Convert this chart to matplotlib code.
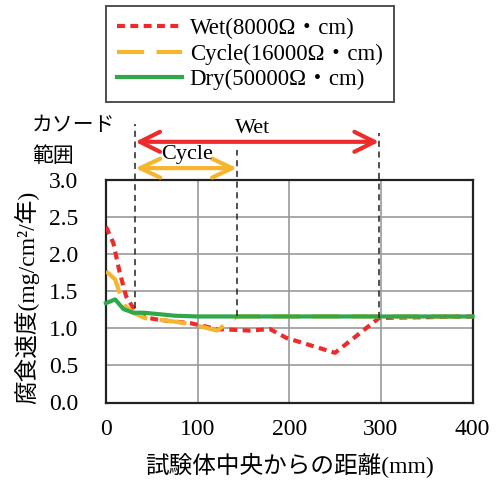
import matplotlib
matplotlib.use("Agg")
import matplotlib.pyplot as plt
from matplotlib.ticker import FormatStrFormatter
import numpy as np

plt.rcParams['font.family'] = ['Liberation Serif', 'Noto Sans CJK JP', 'DejaVu Sans']

# data (distance in mm, corrosion rate in mg/cm2/year)
wet_x = [0, 8, 15, 22, 31, 46, 60, 92, 121, 157, 179, 197, 250, 298, 400]
wet_y = [2.37, 2.15, 1.75, 1.43, 1.25, 1.14, 1.11, 1.07, 0.99, 0.97, 0.99, 0.87, 0.67, 1.14, 1.16]
cycle_x = [0, 10, 19, 30, 42, 75, 92, 121, 143, 400]
cycle_y = [1.77, 1.66, 1.32, 1.21, 1.14, 1.09, 1.06, 0.97, 1.16, 1.16]
dry_x = [0, 10, 19, 30, 42, 75, 100, 400]
dry_y = [1.34, 1.39, 1.26, 1.21, 1.21, 1.17, 1.16, 1.16]

labels = ['Wet(8000Ω・cm)', 'Cycle(16000Ω・cm)', 'Dry(50000Ω・cm)']

# cathode range boundaries (mm)
cathode_start = 32
cycle_end = 143
wet_end = 298

red = '#ee2b2b'
yellow = '#f5b52e'
green = '#2ea84b'

fig = plt.figure(figsize=(4.96, 4.8), dpi=100)
ax = fig.add_axes([106/496, 1-402.5/480, 366.5/496, 222.5/480])

ax.set_xlim(0, 400)
ax.set_ylim(0, 3.0)
ax.set_xticks(np.arange(0, 401, 100))
ax.set_yticks(np.arange(0, 3.01, 0.5))
ax.yaxis.set_major_formatter(FormatStrFormatter('%.1f'))
ax.tick_params(length=0, labelsize=17)
ax.tick_params(axis='x', pad=12)
ax.tick_params(axis='y', pad=20)
ax.grid(True, color='#9a9a9a', linewidth=1.2)
ax.set_axisbelow(True)
plt.setp(ax.spines.values(), linewidth=1.6, color='#222222')

l1, = ax.plot(wet_x, wet_y, color=red, lw=3, ls=(0, (1.9, 1.3)), zorder=3)
l2, = ax.plot(cycle_x, cycle_y, color=yellow, lw=3, ls=(0, (6.5, 3.0)), zorder=4)
l3, = ax.plot(dry_x, dry_y, color=green, lw=3, zorder=5, clip_on=False)

# dashed boundaries of cathode range
ax.plot([cathode_start, cathode_start], [1.27, 3.76], color='#222222', lw=1.1,
        ls=(0, (4, 3)), clip_on=False, zorder=6)
ax.plot([cycle_end, cycle_end], [1.16, 3.40], color='#222222', lw=1.1,
        ls=(0, (4, 3)), clip_on=False, zorder=6)
ax.plot([wet_end, wet_end], [1.14, 3.63], color='#222222', lw=1.1,
        ls=(0, (4, 3)), clip_on=False, zorder=6)

ax.annotate('', xy=(cathode_start, 3.515), xytext=(wet_end, 3.515), annotation_clip=False,
            arrowprops=dict(arrowstyle='<->,head_length=0.72,head_width=0.36', color=red,
                            lw=3, shrinkA=0, shrinkB=0, mutation_scale=20))
ax.annotate('', xy=(cathode_start, 3.16), xytext=(cycle_end, 3.16), annotation_clip=False,
            arrowprops=dict(arrowstyle='<->,head_length=0.72,head_width=0.34', color=yellow,
                            lw=3, shrinkA=0, shrinkB=0, mutation_scale=20))
ax.text(160, 3.70, 'Wet', fontsize=16, ha='center', va='center', clip_on=False)
ax.text(89, 3.34, 'Cycle', fontsize=16, ha='center', va='center', clip_on=False)

fig.text(32/496, 1-127/480, 'カソード', fontsize=15, ha='left', va='center')
fig.text(32/496, 1-157/480, '範囲', fontsize=15, ha='left', va='center')

fig.text(27/496, 1-297/480, '腐食速度(mg/cm²/年)', fontsize=17, rotation=90,
         ha='center', va='center')
fig.text(290/496, 1-465/480, '試験体中央からの距離(mm)', fontsize=17,
         ha='center', va='center')

leg = fig.legend([l1, l2, l3], labels, loc='center', bbox_to_anchor=(250/496, 1-54/480),
                 fontsize=16.5, frameon=True, fancybox=False, edgecolor='#222222',
                 handlelength=2.8, handletextpad=0.35, labelspacing=0.2,
                 borderpad=0.5, borderaxespad=0)
leg.get_frame().set_linewidth(1.4)

plt.savefig('out.png', dpi=100)
